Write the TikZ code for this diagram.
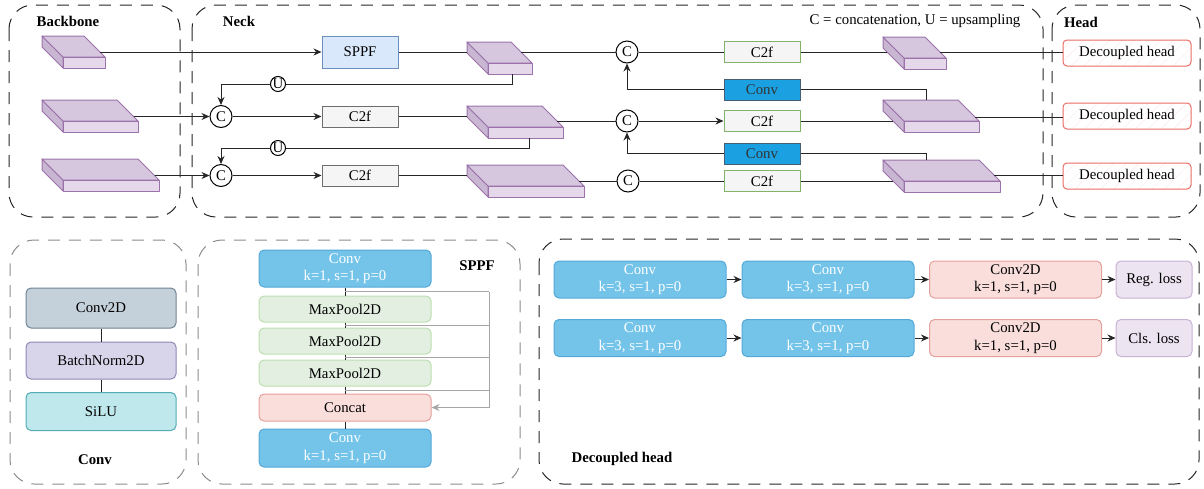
\documentclass[tikz,border=0pt]{standalone}
\usepackage{fontspec}
\setmainfont{Liberation Serif}
\usetikzlibrary{arrows.meta}
\usetikzlibrary{positioning}
\usetikzlibrary{calc}
\usetikzlibrary{patterns.meta}

\definecolor{slabedge}{RGB}{155,115,170}
\definecolor{slabtop}{RGB}{214,198,222}
\definecolor{slabside}{RGB}{201,182,211}
\definecolor{slabfront}{RGB}{229,216,235}
\definecolor{sppfblue}{RGB}{218,232,252}
\definecolor{sppfedge}{RGB}{108,142,191}
\definecolor{c2fgray}{RGB}{245,245,245}
\definecolor{c2fedge}{RGB}{110,110,110}
\definecolor{c2fgreen}{RGB}{130,179,102}
\definecolor{convblue}{RGB}{27,161,226}
\definecolor{convedge}{RGB}{70,95,115}
\definecolor{headred}{RGB}{234,107,102}
\definecolor{skyfill}{RGB}{116,196,234}
\definecolor{skyedge}{RGB}{84,168,216}
\definecolor{poolfill}{RGB}{227,239,224}
\definecolor{pooledge}{RGB}{188,222,175}
\definecolor{pinkfill}{RGB}{249,222,220}
\definecolor{pinkedge}{RGB}{228,160,156}
\definecolor{lossfill}{RGB}{236,228,241}
\definecolor{lossedge}{RGB}{198,178,212}
\definecolor{c2dfill}{RGB}{197,209,218}
\definecolor{c2dedge}{RGB}{112,132,148}
\definecolor{bnfill}{RGB}{216,213,234}
\definecolor{bnedge}{RGB}{142,137,182}
\definecolor{silufill}{RGB}{190,232,235}
\definecolor{siluedge}{RGB}{82,172,180}

\newcommand{\dfont}{\fontsize{14.8}{17.5}\selectfont}
% feature map slab: name, x, y, width, in offset, out offset
\newcommand{\featmap}[6]{%
  \filldraw[slab, fill=slabside] (#2,#3) -- ++(21,21) -- ++(0,11) -- ++(-21,-21) -- cycle;
  \filldraw[slab, fill=slabtop] (#2,#3) -- ++(#4,0) -- ++(21,21) -- ++(-#4,0) -- cycle;
  \filldraw[slab, fill=slabfront] (#2+21,#3+21) rectangle ++(#4,11);
  \coordinate (#1-w) at ({#2+max(#5-11,0)},{#3+#5});
  \coordinate (#1-e) at ({#2+#4+#6},{#3+#6});
  \coordinate (#1-n) at ({#2+43},#3);
  \coordinate (#1-s) at ({#2+21+0.55*#4},{#3+32});
}

\tikzset{
  panel/.style={draw=black!85, line width=1pt, dash pattern=on 12pt off 9pt, rounded corners=24pt},
  lightpanel/.style={panel, draw=black!45},
  slab/.style={draw=slabedge, line width=1pt, line join=round},
  link/.style={draw=black!85, line width=1pt},
  graylink/.style={draw=black!35, line width=1pt},
  blk/.style={draw, line width=1pt, inner sep=0pt, align=center},
  sppfbox/.style={blk, fill=sppfblue, draw=sppfedge, minimum width=76pt, minimum height=32pt},
  c2fbox/.style={blk, fill=c2fgray, draw=c2fedge, minimum width=76pt, minimum height=21pt},
  c2fgbox/.style={c2fbox, draw=c2fgreen},
  convbox/.style={blk, fill=convblue, draw=convedge, minimum width=76pt, minimum height=21pt, text=black!80},
  headbox/.style={blk, draw=headred, rounded corners=4pt, minimum width=128pt, minimum height=26pt,
    pattern={Lines[angle=45,distance=9pt,line width=0.6pt]}, pattern color=headred!12},
  catcirc/.style={circle, draw, line width=1pt, fill=white, inner sep=0pt, minimum size=22pt},
  upcirc/.style={catcirc, minimum size=15pt},
  rbox/.style={blk, rounded corners=5pt, minimum width=172pt, minimum height=37pt},
  skybox/.style={rbox, fill=skyfill, draw=skyedge, text=white},
  poolbox/.style={rbox, fill=poolfill, draw=pooledge, minimum height=26pt},
  pinkbox/.style={rbox, fill=pinkfill, draw=pinkedge},
  lossbox/.style={rbox, fill=lossfill, draw=lossedge, minimum width=76pt},
  layerbox/.style={rbox, minimum width=150pt, minimum height=38pt},
  title/.style={font=\dfont\bfseries},
}

\begin{document}
\begin{tikzpicture}[x=1pt, y=-1pt, font=\dfont, >={Stealth[length=8pt,width=7pt]}]
\useasboundingbox (0,0) rectangle (1204,488);
% draw panels
\draw[panel] (9,5) rectangle (180,217);
\draw[panel] (192,5) rectangle (1043,217);
\draw[panel] (1052,5) rectangle (1200,217);
\draw[lightpanel] (10,240) rectangle (186,484);
\draw[lightpanel] (198,240) rectangle (520,484);
\draw[panel] (539,239) rectangle (1199,484);

% panel titles
\node[title] (tbb) at (68,21) {Backbone};
\node[title] (tneck) at (239,21) {Neck};
\node[title] (thead) at (1081,22) {Head};
\node (legend) at (915,21) {C = concatenation, U = upsampling};
\node[title] (tconv) at (95,460) {Conv};
\node[title] (tsppf) at (477,266) {SPPF};
\node[title] (tdh) at (622,459) {Decoupled head};

% feature maps
\featmap{S1}{42}{36}{42}{10}{16}
\featmap{S2}{42}{100}{75}{10}{16.5}
\featmap{S3}{42}{159}{96}{10}{16.5}
\featmap{N1}{467}{42}{44}{10}{10}
\featmap{N2}{467}{106}{75}{10.5}{15}
\featmap{N3}{467}{165}{96}{10.5}{16}
\featmap{R1}{883}{37}{42}{15}{15}
\featmap{R2}{883}{100}{75}{21}{17}
\featmap{R3}{883}{160}{96}{21}{15}

% neck blocks
\node[sppfbox] (sppf) at (360,52) {SPPF};
\node[catcirc] (catA) at (221,116.5) {C};
\node[catcirc] (catB) at (221,175.5) {C};
\node[upcirc] (upA) at (278,84) {U};
\node[upcirc] (upB) at (278,148) {U};
\node[c2fbox] (c2fA) at (360,116.5) {C2f};
\node[c2fbox] (c2fB) at (360,175.5) {C2f};
\node[catcirc] (catC1) at (627,52) {C};
\node[catcirc] (catC2) at (627,121) {C};
\node[catcirc] (catC3) at (628,181) {C};
\node[c2fgbox] (c2fR1) at (762,52) {C2f};
\node[c2fgbox] (c2fR2) at (762,121) {C2f};
\node[c2fgbox] (c2fR3) at (762,181) {C2f};
\node[convbox] (convR1) at (762,89.5) {Conv};
\node[convbox] (convR2) at (762,153.5) {Conv};
% head blocks
\node[headbox] (dh1) at (1127,53) {Decoupled head};
\node[headbox] (dh2) at (1127,116) {Decoupled head};
\node[headbox] (dh3) at (1127,176) {Decoupled head};

% backbone to neck
\draw[link,->] (S1-e) -- (sppf);
\draw[link,->] (S2-e) -- (catA);
\draw[link,->] (S3-e) -- (catB);
% top-down path
\draw[link] (sppf) -- (N1-w);
\draw[link] (N1-s) |- (upA);
\draw[link,->] (upA) -| (catA);
\draw[link,->] (catA) -- (c2fA);
\draw[link] (c2fA) -- (N2-w);
\draw[link] (N2-s) |- (upB);
\draw[link,->] (upB) -| (catB);
\draw[link,->] (catB) -- (c2fB);
\draw[link] (c2fB) -- (N3-w);
% bottom-up path
\draw[link] (N1-e) -- (catC1);
\draw[link] (N2-e) -- (catC2);
\draw[link] (N3-e) -- (catC3);
\draw[link] (catC1) -- (c2fR1);
\draw[link,->] (catC2) -- (c2fR2);
\draw[link] (catC3) -- (c2fR3);
\draw[link] (c2fR1) -- (R1-w);
\draw[link] (c2fR2) -- (R2-w);
\draw[link] (c2fR3) -- (R3-w);
\draw[link] (R2-n) |- (convR1);
\draw[link,->] (convR1) -| (catC1);
\draw[link] (R3-n) |- (convR2);
\draw[link,->] (convR2) -| (catC2);
% neck to head
\draw[link] (R1-e) -- (R1-e -| dh1.west);
\draw[link] (R2-e) -- (R2-e -| dh2.west);
\draw[link] (R3-e) -- (R3-e -| dh3.west);

% Conv module
\node[layerbox, fill=c2dfill, draw=c2dedge, minimum height=40pt] (conv2d) at (101,308) {Conv2D};
\node[layerbox, fill=bnfill, draw=bnedge, minimum height=37pt] (bn) at (101,360.5) {BatchNorm2D};
\node[layerbox, fill=silufill, draw=siluedge] (silu) at (101,411.5) {SiLU};
\draw[link] (conv2d) -- (bn);
\draw[link] (bn) -- (silu);

% SPPF module
\node[skybox] (spc1) at (345,268.5) {Conv\\k=1, s=1, p=0};
\node[poolbox] (mp1) at (345,309) {MaxPool2D};
\node[poolbox] (mp2) at (345,341) {MaxPool2D};
\node[poolbox] (mp3) at (345,373) {MaxPool2D};
\node[pinkbox, minimum height=27pt] (concat) at (345,407.5) {Concat};
\node[skybox, minimum height=38pt] (spc2) at (345,448) {Conv\\k=1, s=1, p=0};
\draw[link] (spc1) -- (mp1);
\draw[link] (mp1) -- (mp2);
\draw[link] (mp2) -- (mp3);
\draw[link] (mp3) -- (concat);
\draw[link] (concat) -- (spc2);
\coordinate (b1) at ($(spc1.south)!0.5!(mp1.north)$);
\coordinate (b2) at ($(mp1.south)!0.5!(mp2.north)$);
\coordinate (b3) at ($(mp2.south)!0.5!(mp3.north)$);
\coordinate (b4) at ($(mp3.south)!0.5!(concat.north)$);
\coordinate (skip) at (489,291);
\draw[graylink] (b1) -- (b1 -| skip);
\draw[graylink] (b2) -- (b2 -| skip);
\draw[graylink] (b3) -- (b3 -| skip);
\draw[graylink] (b4) -- (b4 -| skip);
\draw[graylink,->] (b1 -| skip) |- (concat.east);

% Decoupled head module
\node[skybox] (rc1) at (640,279.5) {Conv\\k=3, s=1, p=0};
\node[skybox] (rc2) at (828,279.5) {Conv\\k=3, s=1, p=0};
\node[pinkbox] (rc3) at (1015.5,279.5) {Conv2D\\k=1, s=1, p=0};
\node[lossbox] (rl) at (1154,279.5) {Reg. loss};
\node[skybox] (cc1) at (640,338) {Conv\\k=3, s=1, p=0};
\node[skybox] (cc2) at (828,338) {Conv\\k=3, s=1, p=0};
\node[pinkbox] (cc3) at (1015.5,338) {Conv2D\\k=1, s=1, p=0};
\node[lossbox] (cl) at (1154,338) {Cls. loss};
\draw[link,->] (rc1) -- (rc2);
\draw[link,->] (rc2) -- (rc3);
\draw[link,->] (rc3) -- (rl);
\draw[link,->] (cc1) -- (cc2);
\draw[link,->] (cc2) -- (cc3);
\draw[link,->] (cc3) -- (cl);
\end{tikzpicture}
\end{document}
